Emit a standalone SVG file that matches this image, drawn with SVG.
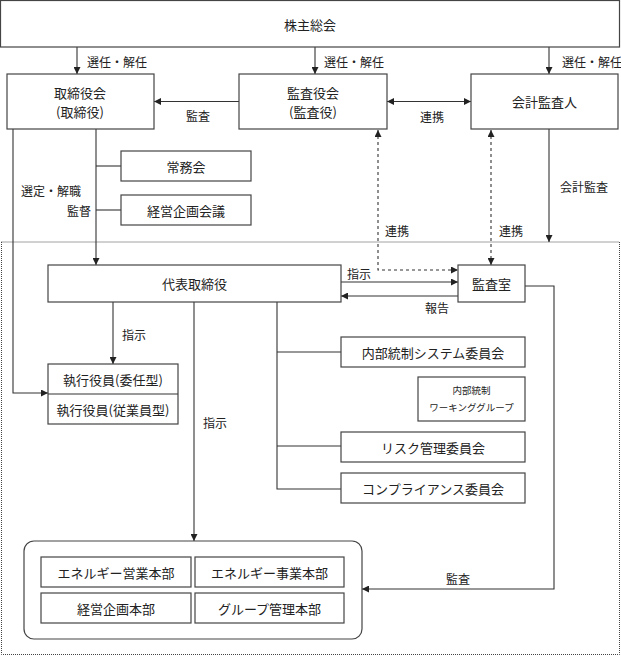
<svg xmlns="http://www.w3.org/2000/svg" width="621" height="656" viewBox="0 0 621 656">
<style>
.box{fill:#fff;stroke:#444;stroke-width:1.2}
.t{font-family:"Noto Sans CJK JP","Noto Sans",sans-serif;font-size:13px;fill:#222;text-anchor:middle;dominant-baseline:central}
.l{font-family:"Noto Sans CJK JP","Noto Sans",sans-serif;font-size:12px;fill:#222;dominant-baseline:central}
.s{font-size:9.5px}
.ln{fill:none;stroke:#333;stroke-width:1.1}
.dash{fill:none;stroke:#333;stroke-width:1.1;stroke-dasharray:3 3}
.dot{fill:none;stroke:#444;stroke-width:1;stroke-dasharray:1 1}
</style>
<defs>
<marker id="a" viewBox="0 0 7 7" refX="7" refY="3.5" markerWidth="7" markerHeight="7" markerUnits="userSpaceOnUse" orient="auto-start-reverse"><path d="M0,0 L7,3.5 L0,7 z" fill="#222"/></marker>
</defs>
<rect class="dot" x="1.5" y="242" width="618" height="412.5"/>
<g id="connectors">
<line class="ln" x1="77" y1="47" x2="77" y2="74" marker-end="url(#a)"/>
<line class="ln" x1="315" y1="47" x2="315" y2="74" marker-end="url(#a)"/>
<line class="ln" x1="549" y1="47" x2="549" y2="74" marker-end="url(#a)"/>
<line class="ln" x1="239" y1="101.5" x2="154" y2="101.5" marker-end="url(#a)"/>
<line class="ln" x1="387" y1="101.5" x2="471" y2="101.5" marker-start="url(#a)" marker-end="url(#a)"/>
<line class="ln" x1="549" y1="129" x2="549" y2="242" marker-end="url(#a)"/>
<polyline class="dash" points="378,130 378,270 458,270" marker-start="url(#a)" marker-end="url(#a)"/>
<line class="dash" x1="491" y1="130" x2="491" y2="265" marker-start="url(#a)" marker-end="url(#a)"/>
<polyline class="ln" points="13,129 13,393 48,393" marker-end="url(#a)"/>
<line class="ln" x1="96" y1="129" x2="96" y2="265" marker-end="url(#a)"/>
<line class="ln" x1="96" y1="166" x2="121" y2="166"/>
<line class="ln" x1="96" y1="210" x2="121" y2="210"/>
<line class="ln" x1="341" y1="282" x2="458" y2="282" marker-end="url(#a)"/>
<line class="ln" x1="458" y1="296" x2="341" y2="296" marker-end="url(#a)"/>
<line class="ln" x1="113" y1="302" x2="113" y2="364" marker-end="url(#a)"/>
<line class="ln" x1="194" y1="302" x2="194" y2="541" marker-end="url(#a)"/>
<polyline class="ln" points="277,302 277,489 341,489"/>
<line class="ln" x1="277" y1="352" x2="341" y2="352"/>
<line class="ln" x1="277" y1="446" x2="341" y2="446"/>
<polyline class="ln" points="525,286 554,286 554,589 362,589" marker-end="url(#a)"/>
</g>
<g id="labels">
<text class="l" x="87" y="61">選任・解任</text>
<text class="l" x="324" y="61">選任・解任</text>
<text class="l" x="562" y="61">選任・解任</text>
<text class="l" x="186" y="115">監査</text>
<text class="l" x="420" y="116">連携</text>
<text class="l" x="21" y="190">選定・解職</text>
<text class="l" x="67" y="210">監督</text>
<text class="l" x="560" y="186">会計監査</text>
<text class="l" x="385" y="230">連携</text>
<text class="l" x="499" y="230">連携</text>
<text class="l" x="347" y="273">指示</text>
<text class="l" x="425" y="307">報告</text>
<text class="l" x="122" y="334">指示</text>
<text class="l" x="203" y="422">指示</text>
<text class="l" x="446" y="578">監査</text>
</g>
<g id="shareholders"><rect class="box" x="0.5" y="0.5" width="619" height="46.5"/><text class="t" x="310" y="24">株主総会</text></g>
<g id="board"><rect class="box" x="7" y="74" width="147" height="55"/><text class="t" x="80" y="92.5">取締役会</text><text class="t" x="80" y="111.5">(取締役)</text></g>
<g id="auditboard"><rect class="box" x="239" y="74" width="148" height="55"/><text class="t" x="313" y="92.5">監査役会</text><text class="t" x="313" y="111.5">(監査役)</text></g>
<g id="accountant"><rect class="box" x="471" y="74" width="147" height="55"/><text class="t" x="544.5" y="101.5">会計監査人</text></g>
<g id="jomukai"><rect class="box" x="121" y="151" width="130" height="30"/><text class="t" x="186" y="166">常務会</text></g>
<g id="keiei"><rect class="box" x="121" y="195" width="130" height="30"/><text class="t" x="186" y="210">経営企画会議</text></g>
<g id="ceo"><rect class="box" x="48" y="265" width="293" height="37"/><text class="t" x="194.5" y="283.5">代表取締役</text></g>
<g id="auditoffice"><rect class="box" x="458" y="265" width="67" height="37"/><text class="t" x="491.5" y="283.5">監査室</text></g>
<g id="officers"><rect class="box" x="48" y="364" width="130" height="60"/><line class="ln" x1="48" y1="394" x2="178" y2="394"/><text class="t" x="113" y="379">執行役員(委任型)</text><text class="t" x="113" y="409">執行役員(従業員型)</text></g>
<g id="naibu"><rect class="box" x="341" y="337" width="184" height="30"/><text class="t" x="433" y="352">内部統制システム委員会</text></g>
<g id="wg"><rect class="box" x="418" y="377" width="107" height="44"/><text class="t s" x="471.5" y="390">内部統制</text><text class="t s" x="471.5" y="407">ワーキンググループ</text></g>
<g id="risk"><rect class="box" x="341" y="432" width="184" height="30"/><text class="t" x="433" y="447">リスク管理委員会</text></g>
<g id="compliance"><rect class="box" x="341" y="473" width="184" height="30"/><text class="t" x="433" y="488">コンプライアンス委員会</text></g>
<g id="divisions"><rect class="box" x="24" y="541" width="338" height="98" rx="10"/>
<rect class="box" x="41" y="557" width="150" height="30"/><text class="t" x="116" y="572">エネルギー営業本部</text>
<rect class="box" x="195" y="557" width="149" height="30"/><text class="t" x="269.5" y="572">エネルギー事業本部</text>
<rect class="box" x="41" y="593" width="150" height="30"/><text class="t" x="116" y="608">経営企画本部</text>
<rect class="box" x="195" y="593" width="149" height="30"/><text class="t" x="269.5" y="608">グループ管理本部</text>
</g>
</svg>
